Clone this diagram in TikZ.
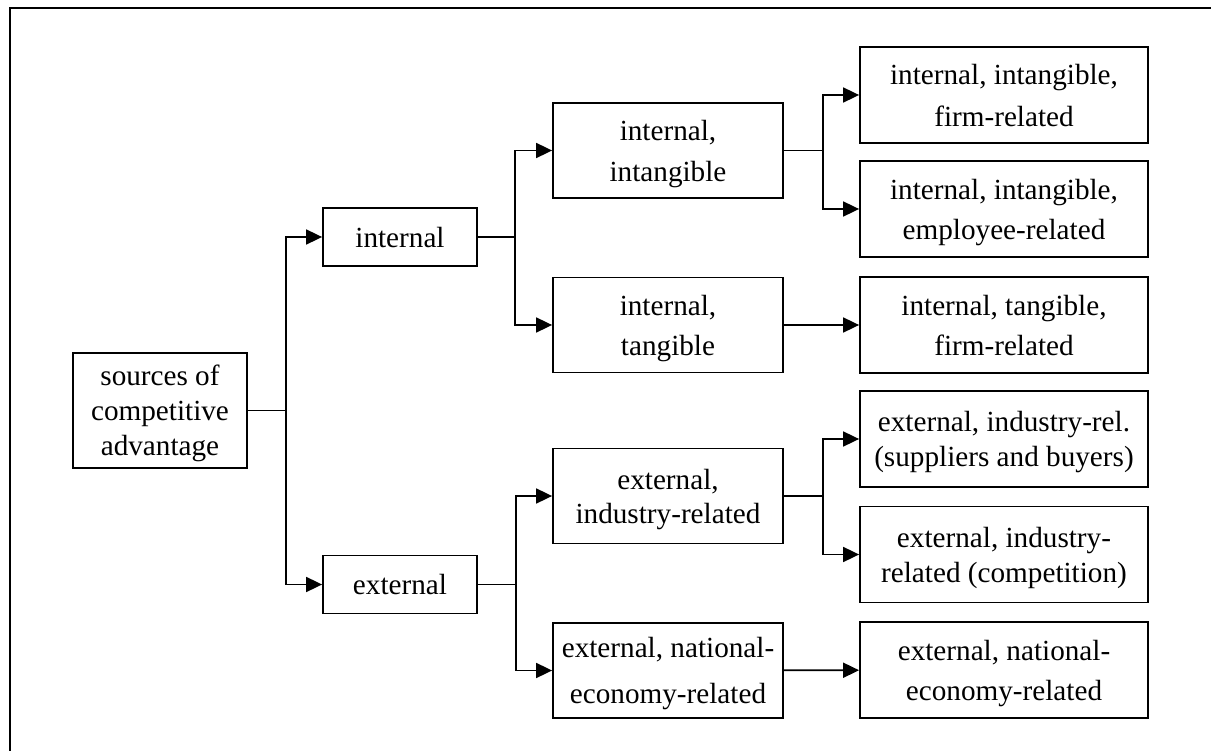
\documentclass[tikz,border=0pt]{standalone}
\usepackage{fontspec}
\setmainfont{Liberation Serif}
\usetikzlibrary{arrows.meta}

\begin{document}
\begin{tikzpicture}[x=1pt, y=-1pt, line width=1.8pt,
		lsp/.style={font=\fontsize{29.2}{#1}\selectfont},
		box/.style={draw, align=center, inner sep=0pt, text depth=0pt, lsp=35},
		small/.style={box, minimum width=154pt, minimum height=58pt},
		mid/.style={box, minimum width=230pt, minimum height=95pt},
		wide/.style={box, minimum width=288pt, minimum height=96pt},
		arr/.style={-{Triangle[length=16pt, width=15pt]}}]
			\useasboundingbox (0,0) rectangle (1211,751);
			
			% frame
			\draw (10,751) -- (10,8) -- (1211,8);
			
			\node [box, minimum width=174pt, minimum height=115pt] (src) at (160,410.5) {sources of\\competitive\\advantage};
			
			\node [small] (int) at (400,237) {internal};
			\node [small] (ext) at (400,584.5) {external};
			
			\node [mid, lsp=41] (ii) at (668,150.5) {internal,\\intangible};
			\node [mid, lsp=40] (it) at (668,325) {internal,\\tangible};
			\node [mid, lsp=34] (ei) at (668,496) {external,\\industry-related};
			\node [mid, lsp=46] (en) at (668,670.5) {external, national-\\economy-related};
			
			\node [wide, lsp=42] (iif) at (1004,95) {internal, intangible,\\firm-related};
			\node [wide, lsp=40] (iie) at (1004,209) {internal, intangible,\\employee-related};
			\node [wide, lsp=40] (itf) at (1004,325) {internal, tangible,\\firm-related};
			\node [wide] (eis) at (1004,439) {external, industry-rel.\\(suppliers and buyers)};
			\node [wide] (eic) at (1004,554.5) {external, industry-\\related (competition)};
			\node [wide, lsp=40] (enr) at (1004,670) {external, national-\\economy-related};
			
			\draw (src.east) -- ++(38,0) coordinate (j1);
			\draw [arr] (j1) |- (int);
			\draw [arr] (j1) |- (ext);
			
			\draw (int.east) -- ++(37,0) coordinate (j2);
			\draw [arr] (j2) |- (ii);
			\draw [arr] (j2) |- (it);
			\draw (ext.east) -- ++(38,0) coordinate (j3);
			\draw [arr] (j3) |- (ei);
			\draw [arr] (j3) |- (en);
			
			\draw (ii.east) -- ++(39,0) coordinate (j4);
			\draw [arr] (j4) |- (iif);
			\draw [arr] (j4) |- (iie);
			\draw [arr] (it) -- (itf);
			\draw (ei.east) -- ++(39,0) coordinate (j5);
			\draw [arr] (j5) |- (eis);
			\draw [arr] (j5) |- (eic);
			\draw [arr] (en) -- (enr);
		\end{tikzpicture}
\end{document}
